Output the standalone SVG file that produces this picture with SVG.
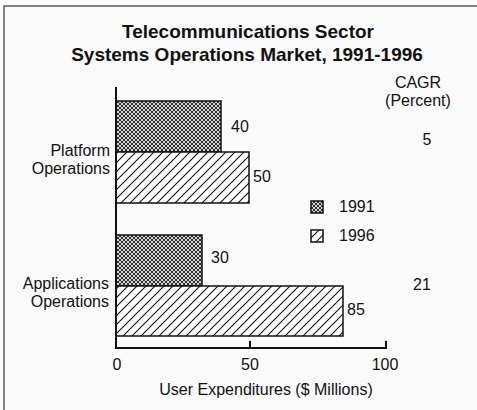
<svg xmlns="http://www.w3.org/2000/svg" width="477" height="410" viewBox="0 0 477 410">
<style>
text{font-family:"Liberation Sans",Arial,sans-serif;fill:#111}
.t{font-size:19px;font-weight:bold;text-anchor:middle}
.l{font-size:16px}
.r{text-anchor:end}
.m{text-anchor:middle}
.bar{stroke:#111;stroke-width:1.5}
.ax{stroke:#111;stroke-width:2;fill:none}
</style>
<defs>
<pattern id="cross" width="4" height="4" patternUnits="userSpaceOnUse">
<rect width="4" height="4" fill="#d0d0d0"/>
<path d="M0,0L4,4M4,0L0,4" stroke="#222" stroke-width="0.9"/>
</pattern>
<pattern id="hatch" width="9" height="9" patternUnits="userSpaceOnUse">
<rect width="9" height="9" fill="#fff"/>
<path d="M-1,1L1,-1M0,9L9,0M8,10L10,8" stroke="#111" stroke-width="1.1"/>
</pattern>
</defs>
<rect x="0" y="0" width="477" height="410" fill="#fafafa"/>
<rect x="4" y="6" width="480" height="410" fill="none" stroke="#333" stroke-width="1.2"/>
<g id="title">
<text class="t" x="248" y="38">Telecommunications Sector</text>
<text class="t" x="247" y="61">Systems Operations Market, 1991-1996</text>
</g>
<g id="cagr-header">
<text class="l m" x="418" y="88">CAGR</text>
<text class="l m" x="418" y="106">(Percent)</text>
</g>
<g id="platform">
<text class="l r" x="110" y="156">Platform</text>
<text class="l r" x="110" y="174">Operations</text>
<rect class="bar" x="116" y="101" width="105" height="51" fill="url(#cross)"/>
<rect class="bar" x="116" y="152" width="133" height="51" fill="url(#hatch)"/>
<text class="l" x="231" y="132">40</text>
<text class="l" x="253" y="182">50</text>
<text class="l m" x="427" y="145">5</text>
</g>
<g id="applications">
<text class="l r" x="109" y="289">Applications</text>
<text class="l r" x="109" y="307">Operations</text>
<rect class="bar" x="116" y="235" width="86" height="51" fill="url(#cross)"/>
<rect class="bar" x="116" y="286" width="227" height="50" fill="url(#hatch)"/>
<text class="l" x="211" y="263">30</text>
<text class="l" x="347" y="315">85</text>
<text class="l m" x="422" y="290">21</text>
</g>
<g id="legend">
<rect class="bar" x="311" y="201" width="12" height="12" fill="url(#cross)"/>
<text class="l" x="339" y="212">1991</text>
<rect class="bar" x="311" y="230" width="12" height="12" fill="url(#hatch)"/>
<text class="l" x="339" y="241">1996</text>
</g>
<g id="axes">
<path class="ax" d="M116,87V348H386V341M250,348V341"/>
<text class="l m" x="117" y="370">0</text>
<text class="l m" x="250" y="370">50</text>
<text class="l m" x="385" y="370">100</text>
<text class="l m" x="266" y="395">User Expenditures ($ Millions)</text>
</g>
</svg>
